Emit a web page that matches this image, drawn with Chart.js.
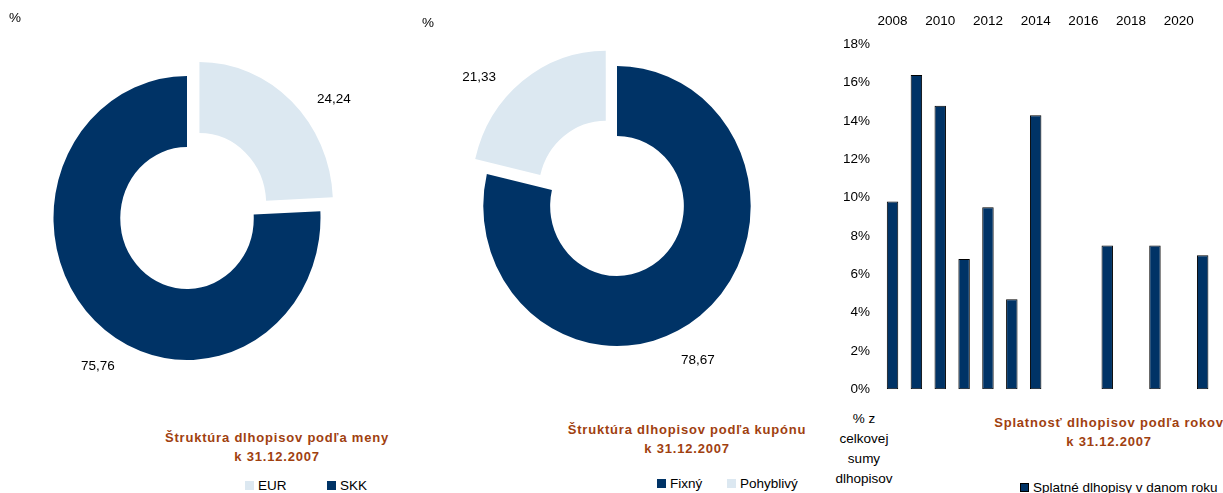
<!DOCTYPE html>
<html><head><meta charset="utf-8">
<script src="https://cdn.jsdelivr.net/npm/chart.js@4.4.0/dist/chart.umd.min.js"></script>
<style>
html,body{margin:0;padding:0;background:#fff;width:1223px;height:493px;overflow:hidden;font-family:"Liberation Sans",Arial,sans-serif;color:#000;}
#wrap{position:relative;width:1223px;height:493px;overflow:hidden;}
canvas{position:absolute;}
.t{position:absolute;white-space:nowrap;font-size:13.5px;line-height:1;transform:translate(-50%,-50%);}
.title{position:absolute;white-space:nowrap;font-weight:bold;color:#A0400F;font-size:13px;letter-spacing:0.8px;text-align:center;transform:translateX(-50%);line-height:18.5px;}
.ylab{position:absolute;white-space:nowrap;font-size:13.5px;text-align:center;transform:translateX(-50%);line-height:20px;}
.leg{position:absolute;white-space:nowrap;font-size:13.5px;height:16px;display:flex;align-items:center;}
.sw{display:inline-block;width:9px;height:9px;margin-right:4px;box-sizing:border-box;}
</style></head>
<body><div id="wrap">
<canvas id="c1" width="410" height="400" style="left:0;top:0;width:410px;height:400px"></canvas>
<canvas id="c2" width="400" height="400" style="left:420px;top:0;width:400px;height:400px"></canvas>
<canvas id="c3" width="403" height="408" style="left:820px;top:0;width:403px;height:408px"></canvas>
<div class="t" style="left:15px;top:18px">%</div>
<div class="t" style="left:428px;top:23px">%</div>
<div class="title" style="left:277px;top:429px">Štruktúra dlhopisov podľa meny<br>k 31.12.2007</div>
<div class="title" style="left:687px;top:421px">Štruktúra dlhopisov podľa kupónu<br>k 31.12.2007</div>
<div class="title" style="left:1109px;top:414px">Splatnosť dlhopisov podľa rokov<br>k 31.12.2007</div>
<div class="ylab" style="left:864px;top:409px">% z<br>celkovej<br>sumy<br>dlhopisov</div>
<div id="legends"></div>
</div>
<script>
// ---- data ----
const currencyLabels = ['EUR', 'SKK'];
const currencyValues = [24.24, 75.76];
const couponLabels = ['Fixný', 'Pohyblivý'];
const couponValues = [78.67, 21.33];
const maturityYears = ['2008','2009','2010','2011','2012','2013','2014','2015','2016','2017','2018','2019','2020','2021'];
const maturityValues = [9.8, 16.4, 14.8, 6.8, 9.5, 4.7, 14.3, 0, 0, 7.5, 0, 7.5, 0, 7.0];
const maturitySeriesLabel = 'Splatné dlhopisy v danom roku';

// ---- styles ----
const DARK = '#003366';
const LIGHT = '#DCE8F1';
const FONT = '"Liberation Sans", Arial, sans-serif';
// Chart.js v4 arcs move by offset/4, so 72 -> 18px explode distance
const EXPLODE = 72;

// vertical stretch of the donut (source chart is slightly elliptical)
const stretchPlugin = {
  id: 'stretch',
  beforeDatasetsDraw(chart, args, opts) {
    const a = chart.getDatasetMeta(0).data[0];
    const ctx = chart.ctx;
    ctx.save();
    ctx.translate(a.x, a.y);
    ctx.scale(1, opts.sy || 1);
    ctx.translate(-a.x, -a.y);
  },
  afterDatasetsDraw(chart) { chart.ctx.restore(); }
};

const labelPlugin = {
  id: 'donutLabels',
  afterDatasetsDraw(chart, args, opts) {
    const meta = chart.getDatasetMeta(0);
    const ctx = chart.ctx;
    const values = chart.data.datasets[0].data;
    ctx.save();
    ctx.font = '13.5px ' + FONT;
    ctx.fillStyle = '#000';
    ctx.textAlign = 'center';
    ctx.textBaseline = 'middle';
    meta.data.forEach((a, i) => {
      const p = opts.place[i];
      const mid = (a.startAngle + a.endAngle) / 2 + p.dA * Math.PI / 180;
      const r = a.outerRadius * p.k;
      const x = a.x + Math.cos(mid) * r;
      const y = a.y + Math.sin(mid) * r * (opts.sy || 1);
      ctx.fillText(values[i].toFixed(2).replace('.', ','), x, y);
    });
    ctx.restore();
  }
};

function makeDonut(id, labels, values, colors, offsets, cfg) {
  return new Chart(document.getElementById(id), {
    type: 'doughnut',
    data: { labels: labels, datasets: [{ data: values, backgroundColor: colors, borderWidth: 0, offset: offsets, clip: false }] },
    options: {
      responsive: false, animation: false, events: [],
      radius: cfg.radius, cutout: '50%',
      layout: { padding: cfg.padding },
      plugins: {
        legend: { display: false }, tooltip: { enabled: false },
        stretch: { sy: cfg.sy },
        donutLabels: { sy: cfg.sy, place: cfg.place }
      }
    },
    plugins: [stretchPlugin, labelPlugin]
  });
}

makeDonut('c1', currencyLabels, currencyValues, [LIGHT, DARK], [EXPLODE, 0], {
  radius: 133.5, sy: 1.064,
  padding: { left: 20, right: 56, top: 56, bottom: 20 },
  place: [{ dA: 9.1, k: 1.383 }, { dA: -11, k: 1.237 }]
});

makeDonut('c2', couponLabels, couponValues, [DARK, LIGHT], [0, EXPLODE], {
  radius: 133.7, sy: 1.047,
  padding: { left: 50, right: 56, top: 62, bottom: 50 },
  place: [{ dA: 9.6, k: 1.256 }, { dA: -9.8, k: 1.384 }]
});

new Chart(document.getElementById('c3'), {
  type: 'bar',
  data: {
    labels: maturityYears,
    datasets: [{
      label: maturitySeriesLabel, data: maturityValues,
      backgroundColor: DARK, borderColor: '#000', borderWidth: 1, borderSkipped: false,
      barPercentage: 0.48, categoryPercentage: 1
    }]
  },
  options: {
    responsive: false, animation: false, events: [],
    layout: { padding: { left: 0, right: 8.4, top: 0, bottom: 0 } },
    plugins: { legend: { display: false }, tooltip: { enabled: false } },
    scales: {
      x: {
        position: 'top',
        grid: { display: false, drawTicks: false }, border: { display: false },
        ticks: { autoSkip: false, maxRotation: 0, padding: 15, color: '#000', font: { family: FONT, size: 13.5 },
          callback: (v, i) => (i % 2 === 0 ? maturityYears[i] : '') },
        afterFit: s => { s.height = 44.3; }
      },
      y: {
        min: 0, max: 18,
        grid: { display: false, drawTicks: false }, border: { display: false },
        ticks: { stepSize: 2, padding: 10.6, color: '#000', font: { family: FONT, size: 13.5 },
          callback: v => v + '%' },
        afterFit: s => { s.width = 60.6; }
      }
    }
  }
});

// ---- HTML legends ----
const legendItems = [
  { text: currencyLabels[0], color: LIGHT, border: false, x: 245, y: 485 },
  { text: currencyLabels[1], color: DARK, border: false, x: 327, y: 485 },
  { text: couponLabels[0], color: DARK, border: false, x: 657, y: 483 },
  { text: couponLabels[1], color: LIGHT, border: false, x: 727, y: 483 },
  { text: maturitySeriesLabel, color: DARK, border: true, x: 1020, y: 487 }
];
const lg = document.getElementById('legends');
legendItems.forEach(it => {
  const d = document.createElement('div');
  d.className = 'leg';
  d.style.left = it.x + 'px';
  d.style.top = (it.y - 8) + 'px';
  const s = document.createElement('span');
  s.className = 'sw';
  s.style.background = it.color;
  if (it.border) s.style.border = '1px solid #000';
  d.appendChild(s);
  d.appendChild(document.createTextNode(it.text));
  lg.appendChild(d);
});
</script>
</body></html>
